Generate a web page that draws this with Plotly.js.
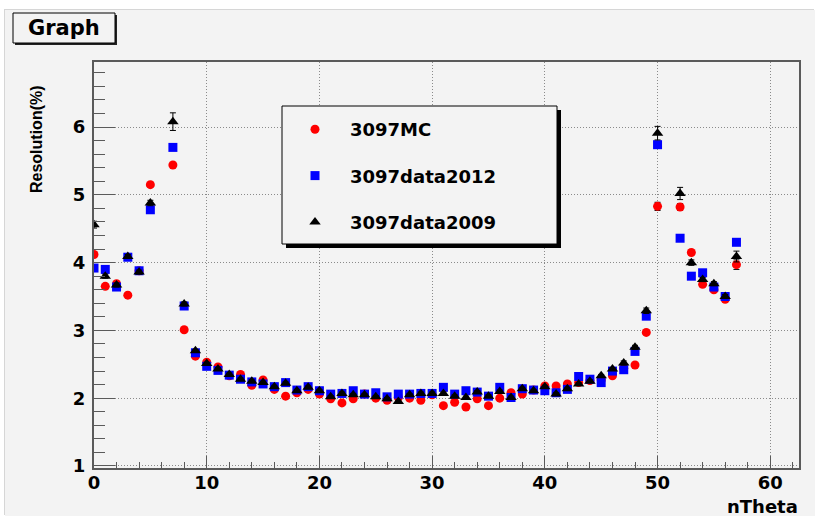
<!DOCTYPE html>
<html>
<head>
<meta charset="utf-8">
<script src="https://cdn.plot.ly/plotly-3.0.1.min.js"></script>
<style>
  html, body { margin: 0; padding: 0; background: #ffffff; width: 815px; height: 516px; overflow: hidden; }
  #plot { position: absolute; left: 5px; top: 10px; width: 810px; height: 506px;
          box-shadow: -1px -1px 0 #d6d6d6; }
</style>
</head>
<body>
<div id="plot"></div>
<script>
// ---- data ----
const nTheta = [0,1,2,3,4,5,7,8,9,10,11,12,13,14,15,16,17,18,19,20,21,22,23,24,25,26,27,28,29,30,31,32,33,34,35,36,37,38,39,40,41,42,43,44,45,46,47,48,49,50,52,53,54,55,56,57];

const mc3097 = [4.12,3.65,3.69,3.52,3.88,5.15,5.44,3.01,2.62,2.53,2.46,2.33,2.35,2.19,2.27,2.13,2.03,2.08,2.13,2.06,1.99,1.93,1.99,2.06,2.00,1.97,2.01,2.00,1.97,2.05,1.89,1.94,1.87,1.99,1.89,2.00,2.08,2.06,2.12,2.18,2.18,2.21,2.23,2.26,2.27,2.33,2.44,2.49,2.97,4.83,4.82,4.15,3.68,3.60,3.46,3.97];
const mc3097Err = [0.03,0.02,0.02,0.02,0.02,0.03,0.03,0.02,0.02,0.02,0.02,0.02,0.02,0.02,0.02,0.02,0.02,0.02,0.02,0.02,0.02,0.02,0.02,0.02,0.02,0.02,0.02,0.02,0.02,0.02,0.02,0.02,0.02,0.02,0.02,0.02,0.02,0.02,0.02,0.02,0.02,0.02,0.02,0.02,0.02,0.02,0.02,0.02,0.03,0.06,0.05,0.03,0.03,0.03,0.03,0.07];

const data2012 = [3.92,3.90,3.64,4.08,3.88,4.78,5.70,3.36,2.67,2.47,2.41,2.34,2.28,2.24,2.21,2.17,2.23,2.12,2.17,2.11,2.06,2.07,2.11,2.06,2.08,2.02,2.06,2.06,2.07,2.07,2.16,2.06,2.11,2.09,2.03,2.16,2.01,2.14,2.12,2.11,2.08,2.13,2.32,2.28,2.23,2.40,2.42,2.69,3.21,5.74,4.36,3.80,3.85,3.64,3.50,4.30];
const data2012Err = [0.02,0.02,0.02,0.02,0.02,0.02,0.03,0.02,0.01,0.01,0.01,0.01,0.01,0.01,0.01,0.01,0.01,0.01,0.01,0.01,0.01,0.01,0.01,0.01,0.01,0.01,0.01,0.01,0.01,0.01,0.01,0.01,0.01,0.01,0.01,0.01,0.01,0.01,0.01,0.01,0.01,0.01,0.01,0.01,0.01,0.01,0.01,0.02,0.02,0.04,0.03,0.02,0.02,0.02,0.02,0.04];

const data2009 = [4.56,3.80,3.67,4.09,3.86,4.88,6.08,3.39,2.70,2.51,2.43,2.35,2.28,2.25,2.23,2.17,2.22,2.11,2.16,2.11,2.02,2.07,2.05,2.05,2.02,1.99,1.95,2.05,2.07,2.07,2.07,2.03,2.01,2.09,2.03,2.10,2.01,2.14,2.11,2.17,2.06,2.14,2.21,2.25,2.33,2.43,2.52,2.75,3.29,5.91,5.02,4.00,3.75,3.69,3.50,4.09];
const data2009Err = [0.05,0.03,0.03,0.03,0.03,0.04,0.13,0.03,0.02,0.02,0.02,0.02,0.02,0.02,0.02,0.02,0.02,0.02,0.02,0.02,0.02,0.02,0.02,0.02,0.02,0.02,0.02,0.02,0.02,0.02,0.02,0.02,0.02,0.02,0.02,0.02,0.02,0.02,0.02,0.02,0.02,0.02,0.02,0.02,0.02,0.02,0.03,0.03,0.04,0.10,0.09,0.04,0.03,0.03,0.03,0.08];

const seriesNames = ["3097MC", "3097data2012", "3097data2009"];
const xTickVals = [0,10,20,30,40,50,60];
const yTickVals = [1,2,3,4,5,6];

// ---- geometry helpers (full image pixels -> paper coords) ----
const L = 89, W = 705, T = 52, H = 406;   // plot area inside the 810x506 div
const px = v => (v - 5 - L) / W;
const py = v => (T + H - (v - 10)) / H;

const boldFont = {family: 'DejaVu Sans, Liberation Sans, sans-serif', size: 18, color: '#000', weight: 'bold'};

function errY(arr) {
  return {type: 'data', array: arr, visible: true, color: '#000', thickness: 1, width: 3};
}

const traces = [
  {x: nTheta, y: mc3097, name: seriesNames[0], legendgroup: 'a', type: 'scatter', mode: 'markers',
   marker: {symbol: 'circle', size: 9, color: '#ff0000'}, error_y: errY(mc3097Err)},
  {x: nTheta, y: data2012, name: seriesNames[1], legendgroup: 'b', type: 'scatter', mode: 'markers',
   marker: {symbol: 'square', size: 9, color: '#0000ff'}, error_y: errY(data2012Err)},
  {x: nTheta, y: data2009, name: seriesNames[2], legendgroup: 'c', type: 'scatter', mode: 'markers',
   marker: {symbol: 'triangle-up', size: 10, color: '#000000'}, error_y: errY(data2009Err)}
];

const axisCommon = {
  showline: true, linecolor: '#5a5a5a', linewidth: 2, mirror: true,
  showgrid: true, gridcolor: '#8a8a8a', gridwidth: 1, griddash: '1px,2px',
  zeroline: false, ticks: 'inside', tickcolor: '#5a5a5a', tickwidth: 1,
  tickfont: boldFont, fixedrange: true
};

const layout = {
  width: 810, height: 506,
  margin: {l: L, r: 810 - L - W, t: T, b: 506 - T - H, pad: 0},
  paper_bgcolor: '#f3f3f3', plot_bgcolor: '#f3f3f3',
  showlegend: true,
  xaxis: Object.assign({}, axisCommon, {
    range: [0, 62.55], tickmode: 'array', tickvals: xTickVals, ticklen: 12, ticklabelstandoff: -3,
    minor: {dtick: 2, tick0: 0, ticklen: 6, ticks: 'inside', tickcolor: '#5a5a5a', tickwidth: 1, showgrid: false}
  }),
  yaxis: Object.assign({}, axisCommon, {
    range: [0.97, 6.96], tickmode: 'array', tickvals: yTickVals, ticklen: 21, ticklabelstandoff: 3,
    minor: {dtick: 0.2, tick0: 0, ticklen: 11, ticks: 'inside', tickcolor: '#5a5a5a', tickwidth: 1, showgrid: false}
  }),
  legend: {
    x: px(280), y: py(111), xanchor: 'left', yanchor: 'top',
    bgcolor: 'rgba(0,0,0,0)', borderwidth: 0,
    font: boldFont, itemwidth: 60, traceorder: 'grouped', tracegroupgap: 20,
    itemclick: false, itemdoubleclick: false
  },
  shapes: [
    // legend shadow + box
    {type: 'rect', xref: 'paper', yref: 'paper', layer: 'above',
     x0: px(286), x1: px(561), y0: py(110), y1: py(248), fillcolor: '#000', line: {width: 0}},
    {type: 'rect', xref: 'paper', yref: 'paper', layer: 'above',
     x0: px(282), x1: px(557), y0: py(106), y1: py(244), fillcolor: '#f3f3f3', line: {color: '#000', width: 1}},
    // title box shadow + box
    {type: 'rect', xref: 'paper', yref: 'paper', layer: 'above',
     x0: px(15), x1: px(117), y0: py(15), y1: py(45), fillcolor: '#222', line: {width: 0}},
    {type: 'rect', xref: 'paper', yref: 'paper', layer: 'above',
     x0: px(13), x1: px(115), y0: py(13), y1: py(43), fillcolor: '#f3f3f3', line: {color: '#000', width: 1}}
  ],
  annotations: [
    {text: 'Graph', xref: 'paper', yref: 'paper', x: px(64), y: py(28), xanchor: 'center', yanchor: 'middle',
     showarrow: false, font: {family: 'DejaVu Sans, sans-serif', size: 21, color: '#000', weight: 'bold'}},
    {text: 'Resolution(%)', xref: 'paper', yref: 'paper', x: px(36), y: py(139), xanchor: 'center', yanchor: 'middle',
     textangle: -90, showarrow: false,
     font: {family: 'Liberation Sans, Arial, sans-serif', size: 16, color: '#000', weight: 'bold'}},
    {text: 'nTheta', xref: 'paper', yref: 'paper', x: px(800), y: py(506), xanchor: 'right', yanchor: 'middle',
     showarrow: false, font: boldFont}
  ]
};

Plotly.newPlot('plot', traces, layout, {displayModeBar: false, staticPlot: true});
</script>
</body>
</html>
